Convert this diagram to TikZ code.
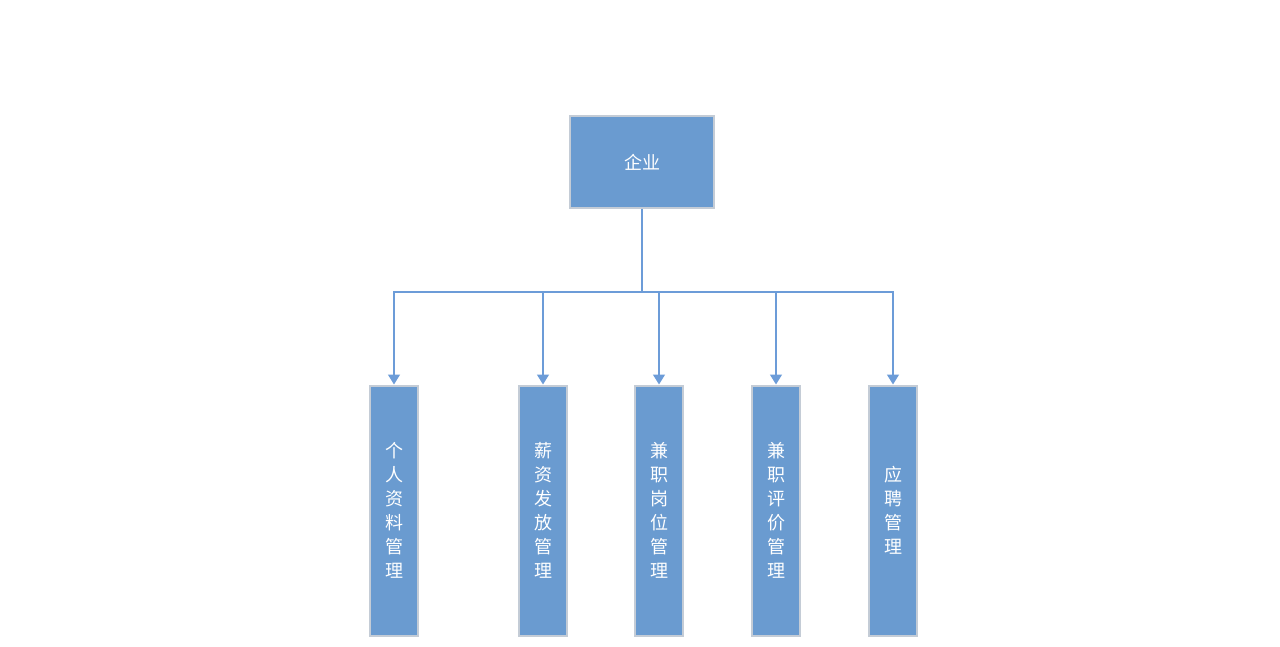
\documentclass[tikz,border=0pt]{standalone}
\usepackage{fontspec}
\setmainfont{Noto Sans CJK SC}
\usepackage{tikz}
\usetikzlibrary{arrows.meta}
\usepackage{xcolor}
\definecolor{boxblue}{HTML}{6A9BD0}
\definecolor{boxedge}{HTML}{C4CCD6}
\definecolor{linkblue}{HTML}{6C9CD8}
\tikzset{
  topbox/.style={draw=boxedge, fill=boxblue, line width=1pt, minimum width=72pt, minimum height=46pt, inner sep=0pt, text=white, font=\fontsize{9pt}{10pt}\selectfont},
  colbox/.style={draw=boxedge, fill=boxblue, line width=1pt, minimum width=24pt, minimum height=125pt, inner sep=0pt, text=white, align=center, font=\fontsize{9pt}{12pt}\selectfont},
  link/.style={draw=linkblue, line width=0.75pt},
  arrowlink/.style={link, -{Triangle[width=6pt, length=5pt]}},
}

\begin{document}
\begin{tikzpicture}[x=0.5pt, y=-0.5pt]  % 1 unit = 1 px of the 1280x647 sheet
  \useasboundingbox (0,0) rectangle (1280,647);
  % root
  \node[topbox] (ent) at (642,162) {企业};
  % five modules, text set one character per line
  \node[colbox] (info)  at (394,510.5) {个\\人\\资\\料\\管\\理};
  \node[colbox] (pay)   at (543,510.5) {薪\\资\\发\\放\\管\\理};
  \node[colbox] (post)  at (659,510.5) {兼\\职\\岗\\位\\管\\理};
  \node[colbox] (rate)  at (776,510.5) {兼\\职\\评\\价\\管\\理};
  \node[colbox] (apply) at (893,510.5) {应\\聘\\管\\理};
  % bus line
  \coordinate (bus) at (642,292);
  \draw[link] (ent.south) -- (bus);
  \foreach \m in {info,pay,post,rate,apply}
    \draw[arrowlink] (bus) -| (\m.north);
\end{tikzpicture}
\end{document}
